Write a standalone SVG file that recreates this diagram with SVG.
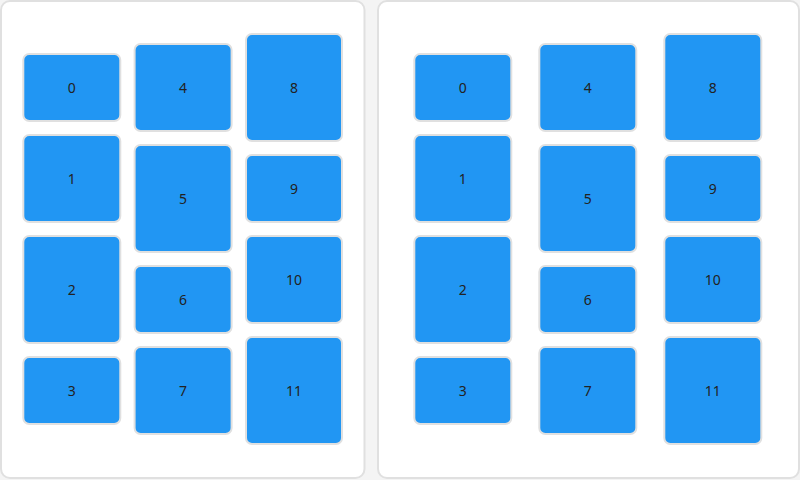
<svg xmlns="http://www.w3.org/2000/svg" width="800" height="480" viewBox="0 0 800 480">
<style>
.panel{fill:#ffffff;stroke:#e0e0e0;stroke-width:2}
.box{fill:#2196f3;stroke:#e0e0e0;stroke-width:2}
.lbl{font-family:"Noto Sans","DejaVu Sans",sans-serif;font-size:14px;fill:#222222;text-anchor:middle}
</style>
<rect x="0" y="0" width="800" height="480" fill="#f4f4f4"/>
<g id="panel-left"><rect class="panel" x="1" y="1" width="363.5" height="477" rx="9"/></g>
<g id="panel-right"><rect class="panel" x="378" y="1" width="421" height="477" rx="9"/></g>
<g id="connectors"></g>
<g id="left-nodes">
<g id="l0"><rect class="box" x="23.3" y="54" width="97" height="67" rx="6"/><text class="lbl" x="71.8" y="92.5">0</text></g>
<g id="l1"><rect class="box" x="23.3" y="135" width="97" height="87" rx="6"/><text class="lbl" x="71.8" y="183.5">1</text></g>
<g id="l2"><rect class="box" x="23.3" y="236" width="97" height="107" rx="6"/><text class="lbl" x="71.8" y="294.5">2</text></g>
<g id="l3"><rect class="box" x="23.3" y="357" width="97" height="67" rx="6"/><text class="lbl" x="71.8" y="395.5">3</text></g>
<g id="l4"><rect class="box" x="134.6" y="44" width="97" height="87" rx="6"/><text class="lbl" x="183.1" y="92.5">4</text></g>
<g id="l5"><rect class="box" x="134.6" y="145" width="97" height="107" rx="6"/><text class="lbl" x="183.1" y="203.5">5</text></g>
<g id="l6"><rect class="box" x="134.6" y="266" width="97" height="67" rx="6"/><text class="lbl" x="183.1" y="304.5">6</text></g>
<g id="l7"><rect class="box" x="134.6" y="347" width="97" height="87" rx="6"/><text class="lbl" x="183.1" y="395.5">7</text></g>
<g id="l8"><rect class="box" x="246" y="34" width="96" height="107" rx="6"/><text class="lbl" x="294" y="92.5">8</text></g>
<g id="l9"><rect class="box" x="246" y="155" width="96" height="67" rx="6"/><text class="lbl" x="294" y="193.5">9</text></g>
<g id="l10"><rect class="box" x="246" y="236" width="96" height="87" rx="6"/><text class="lbl" x="294" y="284.5">10</text></g>
<g id="l11"><rect class="box" x="246" y="337" width="96" height="107" rx="6"/><text class="lbl" x="294" y="395.5">11</text></g>
</g>
<g id="right-nodes">
<g id="r0"><rect class="box" x="414.3" y="54" width="97" height="67" rx="6"/><text class="lbl" x="462.8" y="92.5">0</text></g>
<g id="r1"><rect class="box" x="414.3" y="135" width="97" height="87" rx="6"/><text class="lbl" x="462.8" y="183.5">1</text></g>
<g id="r2"><rect class="box" x="414.3" y="236" width="97" height="107" rx="6"/><text class="lbl" x="462.8" y="294.5">2</text></g>
<g id="r3"><rect class="box" x="414.3" y="357" width="97" height="67" rx="6"/><text class="lbl" x="462.8" y="395.5">3</text></g>
<g id="r4"><rect class="box" x="539.3" y="44" width="97" height="87" rx="6"/><text class="lbl" x="587.8" y="92.5">4</text></g>
<g id="r5"><rect class="box" x="539.3" y="145" width="97" height="107" rx="6"/><text class="lbl" x="587.8" y="203.5">5</text></g>
<g id="r6"><rect class="box" x="539.3" y="266" width="97" height="67" rx="6"/><text class="lbl" x="587.8" y="304.5">6</text></g>
<g id="r7"><rect class="box" x="539.3" y="347" width="97" height="87" rx="6"/><text class="lbl" x="587.8" y="395.5">7</text></g>
<g id="r8"><rect class="box" x="664.3" y="34" width="97" height="107" rx="6"/><text class="lbl" x="712.8" y="92.5">8</text></g>
<g id="r9"><rect class="box" x="664.3" y="155" width="97" height="67" rx="6"/><text class="lbl" x="712.8" y="193.5">9</text></g>
<g id="r10"><rect class="box" x="664.3" y="236" width="97" height="87" rx="6"/><text class="lbl" x="712.8" y="284.5">10</text></g>
<g id="r11"><rect class="box" x="664.3" y="337" width="97" height="107" rx="6"/><text class="lbl" x="712.8" y="395.5">11</text></g>
</g>
</svg>
